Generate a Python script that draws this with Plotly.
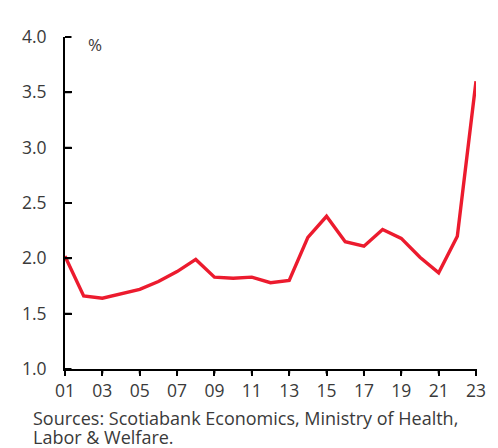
import plotly.graph_objects as go

# Annual rate, %, 2001-2023
years = list(range(2001, 2024))
rate = [2.02, 1.66, 1.64, 1.68, 1.72, 1.79, 1.88, 1.99, 1.83, 1.82, 1.83, 1.78,
        1.80, 2.19, 2.38, 2.15, 2.11, 2.26, 2.18, 2.01, 1.87, 2.20, 3.60]

# x axis is a date axis: one tick every two years, labelled with two-digit years
dates = [f"{y}-01-01" for y in years]
tick_dates = [f"{y}-01-01" for y in range(2001, 2024, 2)]
y_ticks = [1.0, 1.5, 2.0, 2.5, 3.0, 3.5, 4.0]

source_lines = ["Sources: Scotiabank Economics, Ministry of Health,",
                "Labor & Welfare."]

FONT = "Open Sans"
TEXT = "#3a3a3a"
PLOT_TOP, PLOT_BOTTOM = 37, 369          # plot-area edges, px
PLOT_H = PLOT_BOTTOM - PLOT_TOP


def paper_y(px):
    return (PLOT_BOTTOM - px) / PLOT_H


fig = go.Figure()
fig.add_trace(go.Scatter(
    x=dates, y=rate, mode="lines", cliponaxis=False,
    line=dict(color="#ec1b2e", width=3.4),
    hoverinfo="skip", showlegend=False,
))

annotations = [
    dict(text="%", xref="paper", yref="paper", x=(86 - 65) / 413, y=paper_y(44),
         xanchor="left", yanchor="middle", showarrow=False,
         font=dict(family=FONT, size=17, color=TEXT)),
]
for i, line in enumerate(source_lines):
    annotations.append(dict(
        text=line, xref="paper", yref="paper",
        x=(31 - 65) / 413, y=paper_y(417.5 + 19 * i),
        xanchor="left", yanchor="middle", align="left", showarrow=False,
        font=dict(family=FONT, size=18, color=TEXT)))

# tick marks drawn as short headless arrows, offset in pixels from the axis lines
TICK = dict(text="", showarrow=True, arrowhead=0, arrowwidth=2,
            arrowcolor="black", standoff=0, startstandoff=0)
for d in tick_dates:
    annotations.append(dict(TICK, xref="x", yref="paper", x=d, y=0, ax=0, ay=6))
for v in y_ticks:
    annotations.append(dict(TICK, xref="paper", yref="y", x=0, y=v, ax=8, ay=0))

fig.update_layout(
    template="simple_white",
    width=498, height=448,
    margin=dict(l=65, r=20, t=PLOT_TOP, b=448 - PLOT_BOTTOM),
    font=dict(family=FONT, size=17.5, color=TEXT),
    annotations=annotations,
)
fig.update_xaxes(
    type="date", range=[dates[0], dates[-1]],
    tick0=tick_dates[0], dtick="M24", tickformat="%y",
    ticks="outside", ticklen=5, tickwidth=2, tickcolor="black",
    linecolor="black", linewidth=2,
    tickfont=dict(family=FONT, size=17.5, color=TEXT),
)
fig.update_yaxes(
    range=[1, 4], dtick=0.5, tickformat=".1f",
    ticks="inside", ticklen=7, tickwidth=2, tickcolor="black",
    linecolor="black", linewidth=2,
    ticklabelstandoff=13,
    tickfont=dict(family=FONT, size=17.5, color=TEXT),
)

fig.write_html("out.html")
